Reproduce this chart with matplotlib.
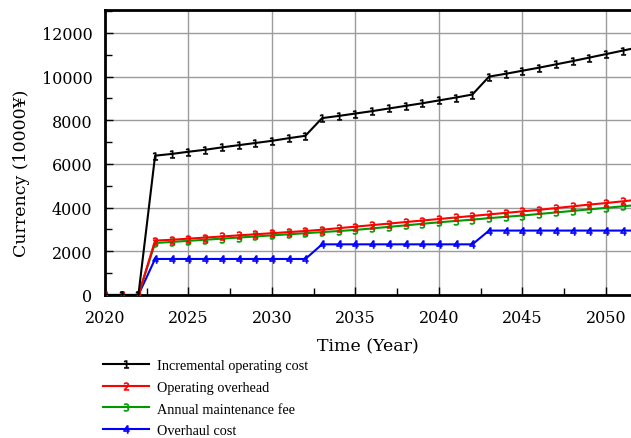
import matplotlib
matplotlib.use("Agg")
import matplotlib.pyplot as plt
from matplotlib.ticker import MultipleLocator

years = list(range(2020, 2053))

# cost series, unit 10000 yuan
incremental = [0, 0, 0,
               6380, 6460, 6560, 6650, 6760, 6860, 6960, 7060, 7180, 7290,
               8100, 8200, 8310, 8420, 8540, 8660, 8780, 8910, 9040, 9180,
               10000, 10130, 10270, 10410, 10560, 10710, 10870, 11030, 11190, 11350]
overhead = [0, 0, 0,
            2490, 2530, 2580, 2630, 2680, 2730, 2780, 2830, 2880, 2930,
            2990, 3060, 3130, 3200, 3270, 3340, 3410, 3480, 3550, 3620,
            3690, 3760, 3830, 3900, 3980, 4060, 4140, 4210, 4290, 4370]
maintenance = [0, 0, 0,
               2380, 2430, 2480, 2530, 2580, 2630, 2680, 2730, 2780, 2830,
               2880, 2930, 2980, 3050, 3120, 3190, 3260, 3330, 3390, 3450,
               3520, 3580, 3640, 3710, 3780, 3850, 3920, 3990, 4060, 4130]
overhaul = [0, 0, 0] + [1650] * 10 + [2320] * 10 + [2950] * 10

labels = ["Incremental operating cost", "Operating overhead",
          "Annual maintenance fee", "Overhaul cost"]
colors = ["#000000", "#ff0000", "#009a00", "#0000ff"]
series = [incremental, overhead, maintenance, overhaul]

fig = plt.figure(figsize=(6.31, 4.39), dpi=100)
ax = fig.add_axes([105 / 631, 1 - 296 / 439, 1 - 105 / 631, 285 / 439])

handles = []
for i, (vals, c, lab) in enumerate(zip(series, colors, labels)):
    h, = ax.plot(years, vals, color=c, lw=1.5, marker="$%d$" % (i + 1),
                 markersize=5.5, markeredgewidth=0.5, label=lab, zorder=5 - i * 0.1)
    handles.append(h)

ax.set_xlim(2020, 2051.5)
ax.set_ylim(0, 13050)
ax.xaxis.set_major_locator(MultipleLocator(5))
ax.xaxis.set_minor_locator(MultipleLocator(2.5))
ax.yaxis.set_major_locator(MultipleLocator(2000))
ax.yaxis.set_minor_locator(MultipleLocator(1000))
ax.grid(True, which="major", color="#9c9c9c", lw=1)
ax.set_axisbelow(True)
ax.tick_params(which="both", direction="in", top=False, right=False,
               labelsize=11.5)
ax.tick_params(axis="x", pad=10)
ax.tick_params(axis="y", pad=9)
ax.tick_params(which="major", length=6, width=1)
ax.tick_params(which="minor", length=5, width=1)
for t in ax.get_xticklabels() + ax.get_yticklabels():
    t.set_fontfamily("DejaVu Serif")
for s in ["left", "bottom", "top"]:
    ax.spines[s].set_linewidth(2)
ax.spines["right"].set_visible(False)

ax.set_xlabel("Time (Year)", family="DejaVu Serif", fontsize=12.5, labelpad=8)
ax.set_ylabel("Currency (10000\u00a5)", family="DejaVu Serif", fontsize=12.5)
ax.yaxis.set_label_coords(-0.143, 0.43)

fig.legend(handles=handles, loc="upper left", bbox_to_anchor=(97 / 631, 1 - 354 / 439),
           frameon=False, prop={"family": "Liberation Serif", "size": 10.3},
           handlelength=3.2, handletextpad=0.6, labelspacing=0.62,
           borderaxespad=0, numpoints=1)

fig.savefig("out.png", dpi=100)
